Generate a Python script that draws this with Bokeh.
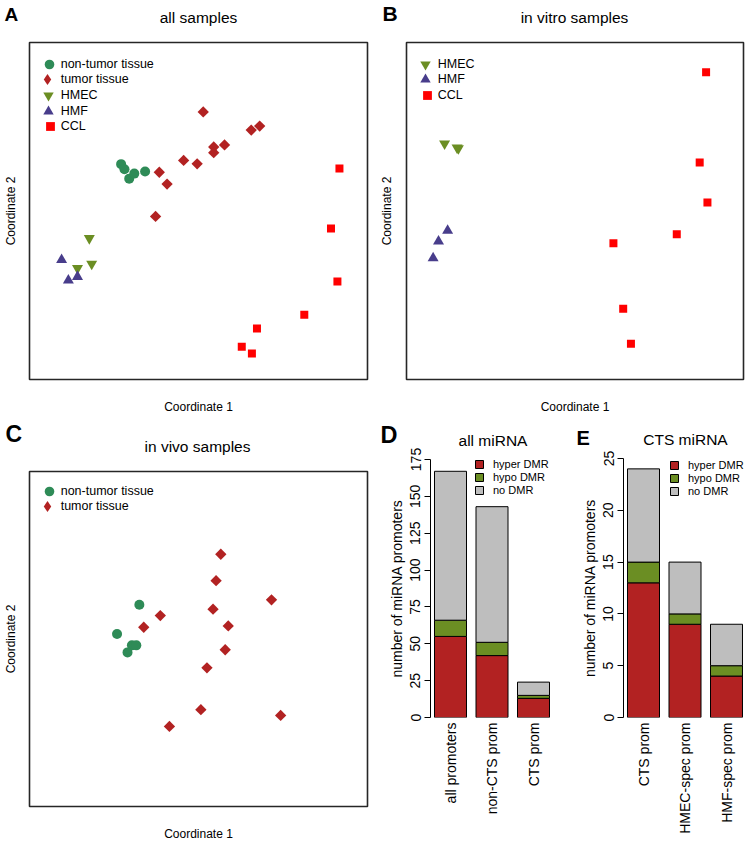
import math
from bokeh.plotting import figure
from bokeh.models import (Range1d, Label, FixedTicker, ColumnDataSource, Legend, LegendItem)
from bokeh.layouts import row, column
from bokeh.embed import file_html
from bokeh.resources import INLINE

FONT = "Liberation Sans"
NAN = float("nan")

# ---------------- colours ----------------
COL_NONTUMOR = "#2E8B57"
COL_TUMOR = "#B22222"
COL_HMEC = "#6B8E23"
COL_HMF = "#483D8B"
COL_CCL = "#FF0000"
COL_HYPER = "#B22222"
COL_HYPO = "#6B8E23"
COL_NODMR = "#BEBEBE"

# ---------------- Panel A: all samples (MDS coordinates) ----------------
a_nontumor_x = [-0.458, -0.438, -0.410, -0.380, -0.316]
a_nontumor_y = [0.278, 0.248, 0.192, 0.222, 0.234]
a_tumor_x = [0.028, 0.312, 0.362, 0.090, 0.154, 0.090, -0.088, -0.008, -0.232, -0.186, -0.254]
a_tumor_y = [0.588, 0.480, 0.504, 0.380, 0.392, 0.346, 0.300, 0.280, 0.230, 0.160, -0.032]
a_hmec_x = [-0.646, -0.632, -0.716]
a_hmec_y = [-0.162, -0.314, -0.340]
a_hmf_x = [-0.810, -0.770, -0.716]
a_hmf_y = [-0.290, -0.412, -0.390]
a_ccl_x = [0.834, 0.784, 0.822, 0.626, 0.346, 0.256, 0.316]
a_ccl_y = [0.252, -0.104, -0.418, -0.616, -0.698, -0.806, -0.846]

# ---------------- Panel B: in vitro samples ----------------
b_hmec_x = [-0.774, -0.692, -0.700]
b_hmec_y = [0.400, 0.372, 0.376]
b_hmf_x = [-0.756, -0.810, -0.842]
b_hmf_y = [-0.116, -0.180, -0.280]
b_ccl_x = [0.778, 0.740, 0.786, 0.604, 0.228, 0.286, 0.332]
b_ccl_y = [0.824, 0.288, 0.050, -0.138, -0.192, -0.580, -0.788]

# ---------------- Panel C: in vivo samples ----------------
c_nontumor_x = [-0.350, -0.482, -0.394, -0.368, -0.420]
c_nontumor_y = [0.204, 0.030, -0.038, -0.038, -0.080]
c_tumor_x = [0.132, 0.104, 0.432, 0.086, -0.226, -0.324, 0.176, 0.158, 0.050, 0.014, 0.486, -0.172]
c_tumor_y = [0.506, 0.348, 0.234, 0.178, 0.140, 0.070, 0.078, -0.064, -0.172, -0.422, -0.456, -0.522]

# ---------------- Panel D: all miRNA ----------------
d_categories = ["all promoters", "non-CTS prom", "CTS prom"]
d_hyper = [55, 42, 13]
d_hypo = [11, 9, 2]
d_nodmr = [101, 92, 9]
d_yticks = [0, 25, 50, 75, 100, 125, 150, 175]

# ---------------- Panel E: CTS miRNA ----------------
e_categories = ["CTS prom", "HMEC-spec prom", "HMF-spec prom"]
e_hyper = [13, 9, 4]
e_hypo = [2, 1, 1]
e_nodmr = [9, 5, 4]
e_yticks = [0, 5, 10, 15, 20, 25]

legend_dmr = ["hyper DMR", "hypo DMR", "no DMR"]


def style_bare_axis(ax, standoff):
    ax.ticker = FixedTicker(ticks=[])
    ax.major_tick_out = 0
    ax.major_tick_in = 0
    ax.minor_tick_out = 0
    ax.minor_tick_in = 0
    ax.major_label_standoff = 0
    ax.axis_line_color = None
    ax.axis_label_standoff = standoff
    ax.axis_label_text_font = FONT
    ax.axis_label_text_font_size = "12px"
    ax.axis_label_text_font_style = "normal"
    ax.axis_label_text_color = "black"


def add_heading(p, title, tx, ty, tsize, letter, lx, ly, lsize):
    # panel title (nearest the frame) and panel letter, both in the area above the frame
    p.add_layout(Label(x=tx, y=ty, x_units="screen", y_units="screen", text=title,
                       text_font=FONT, text_font_style="normal", text_font_size=tsize,
                       text_color="black", text_align="center", text_baseline="middle"),
                 "above")
    p.add_layout(Label(x=lx, y=ly, x_units="screen", y_units="screen", text=letter,
                       text_font=FONT, text_font_style="bold", text_font_size=lsize,
                       text_color="black", text_align="left", text_baseline="alphabetic"),
                 "above")


def scatter_panel(width, height, bl, br, bt, bb, xstand, ystand):
    p = figure(width=width, height=height, x_range=Range1d(-1, 1), y_range=Range1d(-1, 1),
               output_backend="svg", toolbar_location=None, frame_align=False,
               min_border_left=bl, min_border_right=br, min_border_top=bt, min_border_bottom=bb,
               x_axis_label="Coordinate 1", y_axis_label="Coordinate 2")
    p.grid.visible = False
    p.outline_line_color = "#262626"
    p.outline_line_width = 1.6
    p.background_fill_color = "white"
    p.border_fill_color = "white"
    style_bare_axis(p.xaxis[0], xstand)
    style_bare_axis(p.yaxis[0], ystand)
    return p


def scatter_legend(p, items, frame_h):
    # one single-entry legend per key, stacked at the R-like row pitch;
    # labels all start at the same place
    for i, (lab, r, g) in enumerate(items):
        lg = Legend(items=[LegendItem(label=lab, renderers=[r])])
        lg.location = (31.7 - g, frame_h - (21.5 + 15.7 * i + g / 2))
        lg.margin = 0
        lg.padding = 0
        lg.spacing = 0
        lg.glyph_width = g
        lg.glyph_height = g
        lg.label_height = 16
        lg.label_standoff = 0
        lg.label_text_font = FONT
        lg.label_text_font_size = "12.5px"
        lg.label_text_color = "black"
        lg.border_line_alpha = 0
        lg.background_fill_alpha = 0
        p.add_layout(lg)


def add_nontumor(p, x, y):
    return p.scatter(x, y, marker="circle", size=10, fill_color=COL_NONTUMOR, line_color=None)


def add_tumor(p, x, y):
    p.scatter(x, y, marker="square", angle=math.pi / 4, size=8, fill_color=COL_TUMOR,
              line_color=None)
    # legend key (a diamond); its single point is NaN so nothing is drawn in the plot
    return p.scatter([NAN], [NAN], marker="diamond", size=12, fill_color=COL_TUMOR,
                     line_color=None)


def add_hmec(p, x, y):
    return p.scatter(x, y, marker="inverted_triangle", size=11, fill_color=COL_HMEC,
                     line_color=None)


def add_hmf(p, x, y):
    return p.scatter(x, y, marker="triangle", size=11, fill_color=COL_HMF, line_color=None)


def add_ccl(p, x, y):
    return p.scatter(x, y, marker="square", size=8, fill_color=COL_CCL, line_color=None)


# ---- Panel A ----
pA = scatter_panel(370, 416, 29, 3, 42, 37, 20, 12)
rA = [("non-tumor tissue", add_nontumor(pA, a_nontumor_x, a_nontumor_y), 24),
      ("tumor tissue", add_tumor(pA, a_tumor_x, a_tumor_y), 28),
      ("HMEC", add_hmec(pA, a_hmec_x, a_hmec_y), 26),
      ("HMF", add_hmf(pA, a_hmf_x, a_hmf_y), 26),
      ("CCL", add_ccl(pA, a_ccl_x, a_ccl_y), 22)]
scatter_legend(pA, rA, 337)
add_heading(pA, "all samples", 169, 25, "15.5px", "A", -25, 11.5, "19px")

# ---- Panel B ----
pB = scatter_panel(377, 416, 36, 4, 42, 37, 20, 13)
rB = [("HMEC", add_hmec(pB, b_hmec_x, b_hmec_y), 26),
      ("HMF", add_hmf(pB, b_hmf_x, b_hmf_y), 26),
      ("CCL", add_ccl(pB, b_ccl_x, b_ccl_y), 22)]
scatter_legend(pB, rB, 337)
add_heading(pB, "in vitro samples", 168, 25, "15.5px", "B", -24, 12, "21px")

# ---- Panel C ----
pC = scatter_panel(370, 427, 29, 3, 55, 35, 20, 12)
rC = [("non-tumor tissue", add_nontumor(pC, c_nontumor_x, c_nontumor_y), 24),
      ("tumor tissue", add_tumor(pC, c_tumor_x, c_tumor_y), 28)]
scatter_legend(pC, rC, 337)
add_heading(pC, "in vivo samples", 168, 25, "15.5px", "C", -24, 20.5, "23px")


def bar_panel(width, height, bl, br, bt, bb, cats, hyper, hypo, nodmr, ymax, yticks,
              x_start, x_end, leg_x, leg_y):
    xs = list(range(1, len(cats) + 1))
    src = ColumnDataSource(dict(x=xs, hyper=hyper, hypo=hypo, nodmr=nodmr))
    p = figure(width=width, height=height, x_range=Range1d(x_start, x_end),
               y_range=Range1d(0, ymax), output_backend="svg", toolbar_location=None,
               frame_align=False,
               min_border_left=bl, min_border_right=br, min_border_top=bt, min_border_bottom=bb,
               y_axis_label="number of miRNA promoters")
    p.grid.visible = False
    p.outline_line_color = None
    p.background_fill_color = "white"
    p.border_fill_color = "white"
    p.vbar_stack(["hyper", "hypo", "nodmr"], x="x", width=0.771, source=src,
                 fill_color=[COL_HYPER, COL_HYPO, COL_NODMR], line_color="black",
                 line_width=1, legend_label=legend_dmr)

    ya = p.yaxis[0]
    ya.ticker = FixedTicker(ticks=yticks)
    ya.minor_tick_out = 0
    ya.minor_tick_in = 0
    ya.major_tick_in = 0
    ya.major_tick_out = 6
    ya.major_label_orientation = "vertical"
    ya.major_label_standoff = 4
    ya.major_label_text_font = FONT
    ya.major_label_text_font_size = "14px"
    ya.major_label_text_color = "black"
    ya.axis_line_color = "black"
    ya.major_tick_line_color = "black"
    ya.axis_label_standoff = 3
    ya.axis_label_text_font = FONT
    ya.axis_label_text_font_size = "14px"
    ya.axis_label_text_font_style = "normal"
    ya.axis_label_text_color = "black"

    xa = p.xaxis[0]
    xa.ticker = FixedTicker(ticks=xs)
    xa.major_label_overrides = {x: c for x, c in zip(xs, cats)}
    xa.major_label_orientation = math.pi / 2
    xa.major_tick_out = 0
    xa.major_tick_in = 0
    xa.minor_tick_out = 0
    xa.minor_tick_in = 0
    xa.axis_line_color = None
    xa.major_tick_line_color = None
    xa.major_label_standoff = 5
    xa.major_label_text_font = FONT
    xa.major_label_text_font_size = "14px"
    xa.major_label_text_color = "black"

    lg = p.legend[0]
    lg.location = (leg_x, leg_y)
    lg.margin = 0
    lg.padding = 0
    lg.spacing = 0
    lg.glyph_width = 10
    lg.glyph_height = 10
    lg.label_height = 13
    lg.label_standoff = 9
    lg.label_text_font = FONT
    lg.label_text_font_size = "11px"
    lg.label_text_color = "black"
    lg.border_line_alpha = 0
    lg.background_fill_alpha = 0
    return p


# ---- Panel D ----
pD = bar_panel(204, 427, 60, 19, 42, 126, d_categories, d_hyper, d_hypo, d_nodmr, 175,
               d_yticks, 0.518, 3.530, 44, 221)
add_heading(pD, "all miRNA", 62.5, 19, "15.5px", "D", -50, 8, "23.5px")

# ---- Panel E ----
pE = bar_panel(173, 427, 49, 0, 42, 126, e_categories, e_hyper, e_hypo, e_nodmr, 25,
               e_yticks, 0.518, 3.506, 46, 220)
add_heading(pE, "CTS miRNA", 62, 19, "15.5px", "E", -47, 4, "20px")

layout = column(row(pA, pB), row(pC, pD, pE))

open("out.html", "w").write(file_html(layout, INLINE))
